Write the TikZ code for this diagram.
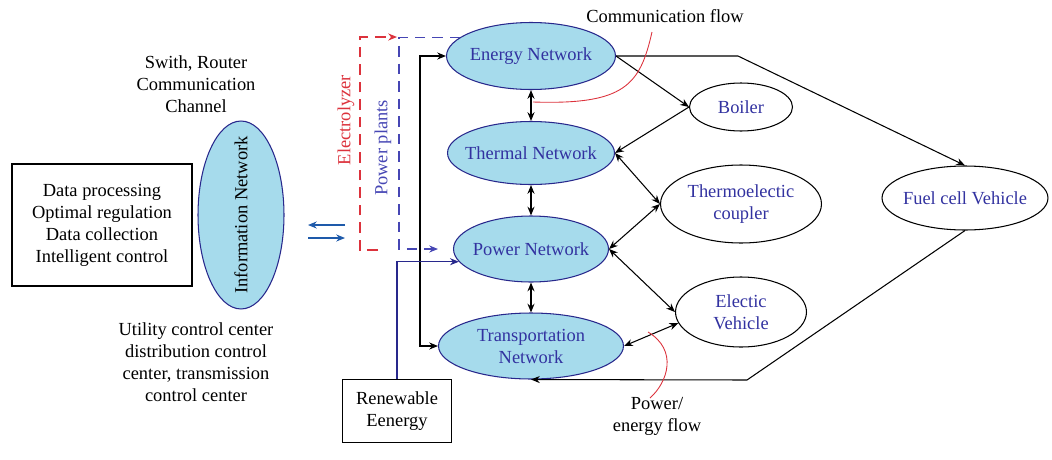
\documentclass[tikz,border=0pt]{standalone}
\usepackage{fontspec}
\setmainfont{Liberation Serif}
\usetikzlibrary{shapes.geometric, arrows.meta, positioning}
\definecolor{netfill}{RGB}{166,219,236}
\definecolor{netline}{RGB}{40,40,140}
\definecolor{nettext}{RGB}{50,50,160}
\definecolor{flowred}{RGB}{220,50,60}
\definecolor{infoblue}{RGB}{30,90,170}
\definecolor{ppblue}{RGB}{70,70,180}

\begin{document}
\begin{tikzpicture}[
  x=0.02cm, y=-0.02cm,
  font=\fontsize{10.5}{12.5}\selectfont,
  line width=0.6pt,
  net/.style={ellipse, draw=netline, fill=netfill, text=nettext, inner sep=-6pt, align=center},
  dev/.style={ellipse, draw, text=nettext, inner sep=-6pt, align=center},
  box/.style={draw, inner sep=0pt, align=center},
  tip/.style={-{Stealth[length=5pt,width=4pt]}},
  dtip/.style={{Stealth[length=5pt,width=4pt]}-{Stealth[length=5pt,width=4pt]}},
  flow/.style={flowred, line width=0.5pt},
  lbl/.style={align=center}
]
\useasboundingbox (0,0) rectangle (1052,460);

\node[box, minimum width=3.6cm, minimum height=2.44cm] (proc) at (102,225)
  {Data processing\\Optimal regulation\\Data collection\\Intelligent control};
\node[net, text=black, minimum width=1.72cm, minimum height=3.76cm] (info) at (241,215) {};
\node[rotate=90] (infolbl) at (241,215) {Information Network};
\node[lbl] (swlbl) at (196,84) {Swith, Router\\Communication\\Channel};
\node[lbl] (ctrllbl) at (196,362) {Utility control center\\distribution control\\center, transmission\\control center};

\coordinate (inA) at (345,225);
\coordinate (inB) at (308,225);
\coordinate (inC) at (308,238);
\coordinate (inD) at (345,238);
\draw[tip, infoblue] (inA) -- (inB);
\draw[tip, infoblue] (inC) -- (inD);

\node[net, minimum width=3.38cm, minimum height=1.34cm] (energy) at (531,56) {Energy Network};
\node[net, minimum width=3.34cm, minimum height=1.26cm] (thermal) at (531,153) {Thermal Network};
\node[net, minimum width=3.10cm, minimum height=1.32cm] (power) at (531,249) {Power Network};
\node[net, minimum width=3.70cm, minimum height=1.32cm] (transport) at (531,346) {Transportation\\Network};

\node[dev, minimum width=2.06cm, minimum height=0.96cm] (boiler) at (741,107) {Boiler};
\node[dev, minimum width=3.22cm, minimum height=1.56cm] (thermo) at (741,204) {Thermoelectic\\coupler};
\node[dev, minimum width=2.62cm, minimum height=1.40cm] (ev) at (741,312) {Electic\\Vehicle};
\node[dev, minimum width=3.32cm, minimum height=1.28cm] (fcv) at (965,198) {Fuel cell Vehicle};

\node[box, minimum width=2.18cm, minimum height=1.26cm] (renew) at (397,411) {Renewable\\Eenergy};

\draw[dtip] (energy) -- (thermal);
\draw[dtip] (thermal) -- (power);
\draw[dtip] (power) -- (transport);

\draw[tip] (energy.east) -- (boiler.west);
\draw[tip] (boiler.west) -- (thermal.east);
\draw[dtip] (thermal.east) -- (thermo.west);
\draw[dtip] (power.east) -- (thermo.west);
\draw[dtip] (power.east) -- (ev.west);
\draw[dtip] (transport.east) -- (ev.190);

\coordinate (fbend) at (738,56);
\coordinate (tbend) at (747,380);
\draw[tip] (energy.east) -- (fbend) -- (fcv.north);
\draw[tip] (fcv.south) -- (tbend) -- (transport.south);

\coordinate (bus) at (420,200);
\draw[dtip] (energy.west) -| (bus) |- (transport.west);

\draw[tip, netline] (renew.north) |- (power.190);

\coordinate (ppbus) at (399,140);
\draw[tip, ppblue, dash pattern=on 6pt off 4pt, shorten >=3mm] (energy.165) -| (ppbus) |- (power.west);
\coordinate (elyA) at (378,250);
\coordinate (elyB) at (397,37);
\draw[tip, flowred, dash pattern=on 6pt off 4pt] (elyA) -- ++(-18,0) |- (elyB);
\node[rotate=90, text=flowred] (elylbl) at (346,120) {Electrolyzer};
\node[rotate=90, text=ppblue] (pplbl) at (383,148) {Power plants};

\node (commlbl) at (665,16) {Communication flow};
\coordinate (commA) at (533,102);
\coordinate (commB) at (652,32);
\draw[flow] (commA) .. controls (625,105) and (640,85) .. (commB);

\node[lbl] (pwrlbl) at (657,416) {Power/\\energy flow};
\coordinate (pwrA) at (648,332);
\coordinate (pwrB) at (650,398);
\draw[flow] (pwrA) .. controls (678,350) and (668,382) .. (pwrB);
\end{tikzpicture}
\end{document}
